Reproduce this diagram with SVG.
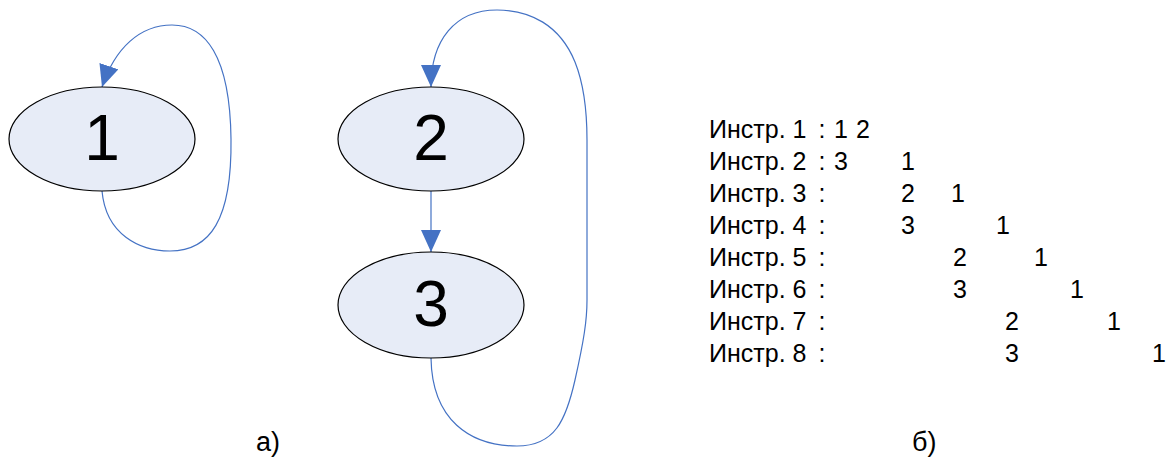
<svg xmlns="http://www.w3.org/2000/svg" width="1171" height="459" viewBox="0 0 1171 459">
<style>
.node{fill:#E7ECF7;stroke:#000;stroke-width:1.2}
.num{font-family:"Liberation Sans",Arial,sans-serif;font-size:64px;fill:#000;text-anchor:middle}
.edge{fill:none;stroke:#4472C4;stroke-width:1.2}
.t{font-family:"Liberation Sans",Arial,sans-serif;font-size:25px;fill:#000}
.c{text-anchor:middle}
.lab{font-family:"Liberation Sans",Arial,sans-serif;font-size:27px;fill:#000}
</style>
<defs>
<marker id="ah" markerUnits="userSpaceOnUse" viewBox="0 0 22 20" refX="22" refY="10" markerWidth="22" markerHeight="20" orient="auto">
<path d="M0,0 L22,10 L0,20 z" fill="#4472C4"/>
</marker>
</defs>
<g id="connectors">
<path class="edge" marker-end="url(#ah)" d="M102,191 C106,235 140,251 170,251 C210,251 232,220 231,139 C230,55 205,25 172,25 C140,25 115,48 102,87"/>
<path class="edge" marker-end="url(#ah)" d="M431,191 L431,252"/>
<path class="edge" marker-end="url(#ah)" d="M431,358 C432,420 470,446 517,446 C555,446 566,420 575,380 C584,340 587,320 587,300 L587,140 C587,110 583,82 575,62 C560,25 530,10 497,10 C455,10 431,40 431,87"/>
</g>
<g id="node1"><ellipse class="node" cx="102" cy="139" rx="93" ry="52"/><text class="num" x="102" y="160">1</text></g>
<g id="node2"><ellipse class="node" cx="431" cy="139" rx="93" ry="52"/><text class="num" x="431" y="160">2</text></g>
<g id="node3"><ellipse class="node" cx="431" cy="305" rx="93" ry="53"/><text class="num" x="431" y="326">3</text></g>
<g id="table" class="t">
<text y="138"><tspan x="709">Инстр. 1</tspan><tspan class="c" x="822">:</tspan><tspan class="c" x="841">1</tspan><tspan class="c" x="863">2</tspan></text>
<text y="170"><tspan x="709">Инстр. 2</tspan><tspan class="c" x="822">:</tspan><tspan class="c" x="841">3</tspan><tspan class="c" x="908">1</tspan></text>
<text y="202"><tspan x="709">Инстр. 3</tspan><tspan class="c" x="822">:</tspan><tspan class="c" x="908">2</tspan><tspan class="c" x="958">1</tspan></text>
<text y="234"><tspan x="709">Инстр. 4</tspan><tspan class="c" x="822">:</tspan><tspan class="c" x="908">3</tspan><tspan class="c" x="1003">1</tspan></text>
<text y="266"><tspan x="709">Инстр. 5</tspan><tspan class="c" x="822">:</tspan><tspan class="c" x="960">2</tspan><tspan class="c" x="1041">1</tspan></text>
<text y="298"><tspan x="709">Инстр. 6</tspan><tspan class="c" x="822">:</tspan><tspan class="c" x="960">3</tspan><tspan class="c" x="1077">1</tspan></text>
<text y="330"><tspan x="709">Инстр. 7</tspan><tspan class="c" x="822">:</tspan><tspan class="c" x="1012">2</tspan><tspan class="c" x="1114">1</tspan></text>
<text y="362"><tspan x="709">Инстр. 8</tspan><tspan class="c" x="822">:</tspan><tspan class="c" x="1012">3</tspan><tspan class="c" x="1159">1</tspan></text>
</g>
<text class="lab" x="256" y="451">а)</text>
<text class="lab" x="912" y="451">б)</text>
</svg>
